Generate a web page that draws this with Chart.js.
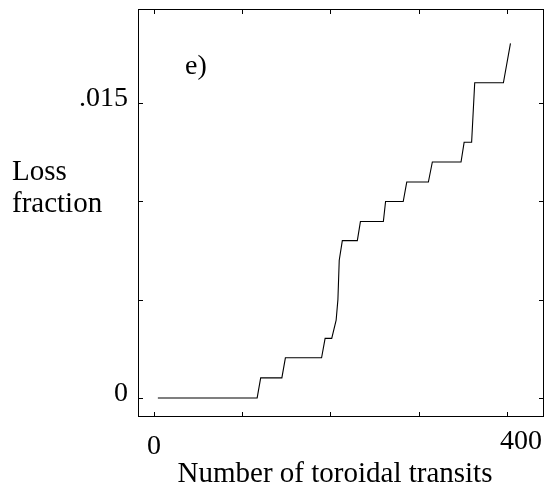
<!DOCTYPE html>
<html>
<head>
<meta charset="utf-8">
<script src="https://cdn.jsdelivr.net/npm/chart.js@4.4.0/dist/chart.umd.min.js"></script>
<style>
  html, body { margin: 0; padding: 0; background: #fff; }
  #wrap { width: 546px; height: 491px; position: relative; }
</style>
</head>
<body>
<div id="wrap"><canvas id="lossChart"></canvas></div>
<script>
// transits vs loss fraction
const transits = [4.5, 117, 121, 145, 149, 190, 194, 201.5, 206.5, 208.5, 210, 213.5, 230.5, 234, 260, 262.5, 282.5, 286.5, 311, 315.5, 348, 351.5, 360, 363.5, 396, 404];
const lossFraction = [0, 0, 0.00102, 0.00102, 0.00204, 0.00204, 0.00303, 0.00303, 0.00396, 0.0050, 0.0070, 0.0080, 0.0080, 0.00897, 0.00897, 0.00999, 0.00999, 0.01098, 0.01098, 0.0120, 0.0120, 0.0130, 0.0130, 0.01603, 0.01603, 0.01803];

const xTicks = [0, 100, 200, 300, 400];
const yTicks = [0, 0.005, 0.01, 0.015];
const xTickLabels = { 0: '0', 400: '400' };
const yTickLabels = { 0: '0', 0.015: '.015' };

const serif = '"Liberation Serif", "DejaVu Serif", serif';

// frame, inward ticks and all texts
const framePlugin = {
  id: 'frame',
  afterDraw(chart) {
    const c = chart.ctx;
    const a = chart.chartArea;
    const xs = chart.scales.x, ys = chart.scales.y;
    c.save();
    c.strokeStyle = '#000';
    c.lineWidth = 1;
    c.strokeRect(a.left + 0.5, a.top + 0.5, a.right - a.left - 1, a.bottom - a.top - 1);

    c.beginPath();
    xTicks.forEach(v => {
      const px = Math.round(xs.getPixelForValue(v)) + 0.5;
      c.moveTo(px, a.bottom); c.lineTo(px, a.bottom - 5);
      c.moveTo(px, a.top); c.lineTo(px, a.top + 5);
    });
    yTicks.forEach(v => {
      const py = Math.round(ys.getPixelForValue(v)) + 0.5;
      c.moveTo(a.left, py); c.lineTo(a.left + 5, py);
      c.moveTo(a.right, py); c.lineTo(a.right - 5, py);
    });
    c.stroke();

    c.fillStyle = '#000';
    c.font = '28px ' + serif;
    c.textBaseline = 'alphabetic';

    // y tick labels
    c.textAlign = 'right';
    Object.keys(yTickLabels).forEach(k => {
      c.fillText(yTickLabels[k], a.left - 10, ys.getPixelForValue(Number(k)) + 3);
    });

    // x tick labels
    c.textAlign = 'center';
    c.fillText(xTickLabels[0], xs.getPixelForValue(0), 454);
    c.textAlign = 'right';
    c.fillText(xTickLabels[400], a.right - 2, 449);

    // axis titles
    c.font = '29px ' + serif;
    c.textAlign = 'center';
    c.fillText('Number of toroidal transits', 335, 482);
    c.textAlign = 'left';
    c.fillText('Loss', 12, 180);
    c.fillText('fraction', 12, 212);

    // panel tag
    c.font = '28px ' + serif;
    c.fillText('e)', 185, 74);
    c.restore();
  }
};

new Chart(document.getElementById('lossChart'), {
  type: 'line',
  data: {
    datasets: [{
      data: transits.map((t, i) => ({ x: t, y: lossFraction[i] })),
      borderColor: '#000',
      borderWidth: 1.1,
      pointRadius: 0,
      tension: 0,
      fill: false
    }]
  },
  options: {
    responsive: true,
    maintainAspectRatio: false,
    animation: false,
    layout: { padding: { left: 138, top: 9, right: 2, bottom: 74 } },
    plugins: {
      legend: { display: false },
      tooltip: { enabled: false }
    },
    scales: {
      x: { type: 'linear', min: -18, max: 442, display: false },
      y: { type: 'linear', min: -0.00097, max: 0.01978, display: false }
    }
  },
  plugins: [framePlugin]
});
</script>
</body>
</html>
